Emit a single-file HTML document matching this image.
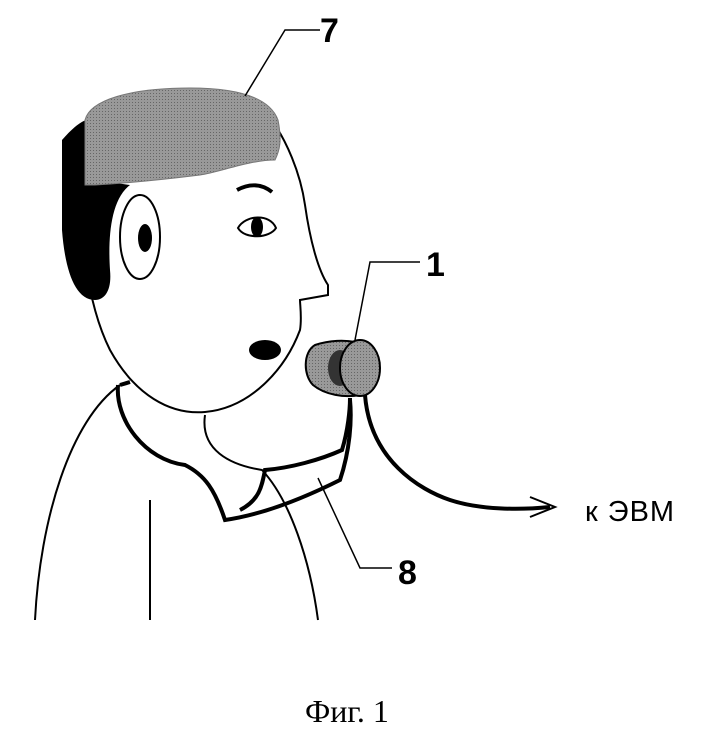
<!DOCTYPE html>
<html><head><meta charset="utf-8"><style>
html,body{margin:0;padding:0;background:#fff;}
svg{display:block;}
</style></head><body>
<svg width="701" height="734" viewBox="0 0 701 734" xmlns="http://www.w3.org/2000/svg">
<defs>
<pattern id="dots" width="3" height="3" patternUnits="userSpaceOnUse">
<rect width="3" height="3" fill="#999"/><rect width="1" height="1" fill="#666"/>
</pattern>
</defs>
<g fill="none" stroke="#000" stroke-width="2">
<path d="M80,160 C80,230 85,300 110,350 C135,395 170,415 205,412 C250,408 285,370 300,330 C302,318 300,305 300,300 L328,295 L328,285 C318,270 310,240 305,205 C300,170 285,140 275,125"/>
</g>
<path d="M62,140 C75,125 85,118 95,118 L95,180 L130,185 C110,200 108,240 110,270 C112,290 105,300 95,300 C75,300 65,270 62,230 Z" fill="#000"/>
<path d="M85,120 C90,100 130,88 190,88 C240,88 270,98 278,120 C282,140 280,150 275,160 C250,160 220,172 200,175 C160,180 130,183 95,185 L85,185 Z" fill="url(#dots)" stroke="#777" stroke-width="1"/>
<g fill="none" stroke="#000" stroke-width="2">
<ellipse cx="140" cy="237" rx="20" ry="42"/>
<path d="M237,190 C250,183 262,184 272,192" stroke-width="4"/>
<path d="M238,228 C245,215 270,213 276,228 C270,238 245,240 238,228 Z"/>
<path d="M35,620 C40,520 70,420 120,385"/>
<path d="M150,500 L150,620"/>
<path d="M205,415 C200,450 230,465 262,470 C290,500 310,560 318,620"/>
<path d="M118,385 C115,420 145,460 185,465 C205,475 215,490 225,520 C260,515 300,500 340,480 C350,450 352,420 350,400" stroke-width="4"/>
<path d="M120,385 L130,382" stroke-width="4"/>
<path d="M240,510 C260,500 262,485 265,470 C290,468 320,460 342,450 C348,430 350,410 350,398" stroke-width="4"/>
<path d="M365,395 C370,460 420,490 450,500 C480,510 520,510 550,507" stroke-width="4"/>
<path d="M530,497 L555,507 L530,517" stroke-width="2"/>
<path d="M245,96 L285,30 L320,30" stroke-width="1.5"/>
<path d="M355,340 L370,262 L420,262" stroke-width="1.5"/>
<path d="M318,478 L360,568 L392,568" stroke-width="1.5"/>
</g>
<ellipse cx="257" cy="227" rx="6" ry="10" fill="#000"/>
<ellipse cx="145" cy="238" rx="7" ry="14" fill="#000"/>
<ellipse cx="265" cy="350" rx="16" ry="10" fill="#000"/>
<path d="M315,345 C330,340 345,340 355,342 L360,395 C345,398 325,395 313,385 C303,375 303,352 315,345 Z" fill="url(#dots)" stroke="#000" stroke-width="2"/>
<ellipse cx="340" cy="368" rx="12" ry="18" fill="#333"/>
<ellipse cx="360" cy="368" rx="20" ry="28" fill="url(#dots)" stroke="#000" stroke-width="2"/>
<g font-family="Liberation Sans, sans-serif" font-size="34" font-weight="bold" fill="#000">
<text x="320" y="42">7</text>
<text x="426" y="276">1</text>
<text x="398" y="584">8</text>
</g>
<text x="585" y="521" font-family="Liberation Sans, sans-serif" font-size="29" letter-spacing="1">к ЭВМ</text>
<text x="305" y="722" font-family="Liberation Serif, serif" font-size="32">Фиг. 1</text>
</svg>
</body></html>
